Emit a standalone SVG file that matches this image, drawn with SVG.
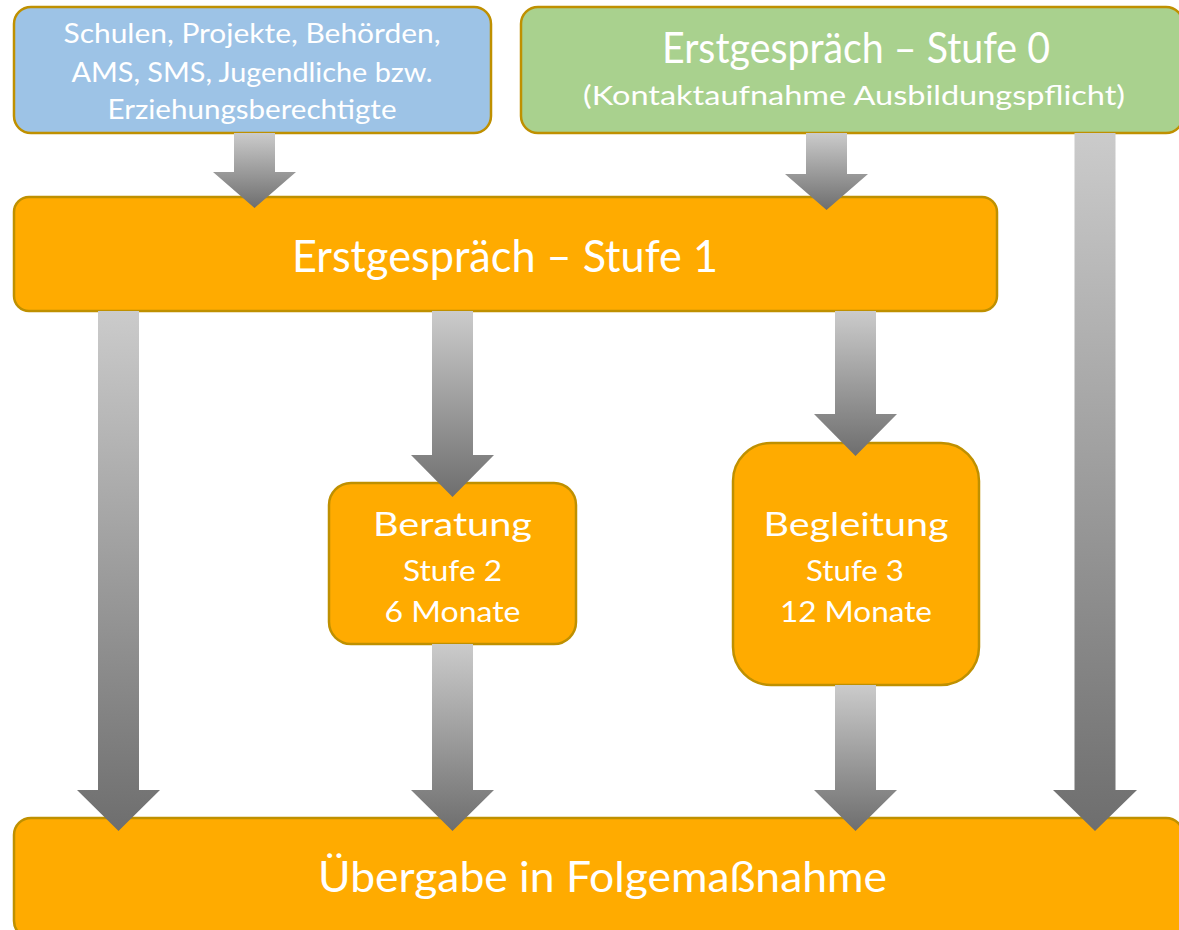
<svg xmlns="http://www.w3.org/2000/svg" width="1179" height="930" viewBox="0 0 1179 930">
<defs>
<linearGradient id="g" x1="0" y1="0" x2="0" y2="1">
<stop offset="0" stop-color="#cbcbcb"/>
<stop offset="1" stop-color="#6e6e6e"/>
</linearGradient>
<style>
.box{stroke:#bf9000;stroke-width:2.5}
.blue{fill:#9dc3e6}
.green{fill:#a9d18e}
.orange{fill:#ffab00}
.arrow{fill:url(#g)}
text{font-family:Lato,"Open Sans","Liberation Sans",sans-serif;fill:#ffffff;text-anchor:middle}
</style>
</defs>
<rect width="1179" height="930" fill="#ffffff"/>
<g id="node-sources">
<rect class="box blue" x="14" y="7" width="477" height="126" rx="17"/>
<text x="252" y="43" font-size="27" textLength="377" lengthAdjust="spacingAndGlyphs">Schulen, Projekte, Behörden,</text>
<text x="252" y="82" font-size="27" textLength="361" lengthAdjust="spacingAndGlyphs">AMS, SMS, Jugendliche bzw.</text>
<text x="252" y="119" font-size="27" textLength="289" lengthAdjust="spacingAndGlyphs">Erziehungsberechtigte</text>
</g>
<g id="node-stufe0">
<rect class="box green" x="521" y="7" width="662" height="126" rx="17"/>
<text x="856" y="63" font-size="43" textLength="388" lengthAdjust="spacingAndGlyphs">Erstgespräch – Stufe 0</text>
<text x="854" y="105" font-size="26.5" textLength="542" lengthAdjust="spacingAndGlyphs">(Kontaktaufnahme Ausbildungspflicht)</text>
</g>
<g id="node-stufe1">
<rect class="box orange" x="14" y="197" width="983" height="114" rx="15"/>
<text x="505" y="272" font-size="44" textLength="426" lengthAdjust="spacingAndGlyphs">Erstgespräch – Stufe 1</text>
</g>
<g id="node-beratung">
<rect class="box orange" x="329" y="483" width="247" height="161" rx="22"/>
<text x="452.5" y="536" font-size="33" textLength="159" lengthAdjust="spacingAndGlyphs">Beratung</text>
<text x="452.5" y="581" font-size="28.5" textLength="99" lengthAdjust="spacingAndGlyphs">Stufe 2</text>
<text x="452.5" y="622" font-size="28.5" textLength="136" lengthAdjust="spacingAndGlyphs">6 Monate</text>
</g>
<g id="node-begleitung">
<rect class="box orange" x="733" y="443" width="246" height="242" rx="38"/>
<text x="856" y="536" font-size="33" textLength="185" lengthAdjust="spacingAndGlyphs">Begleitung</text>
<text x="855" y="581" font-size="28.5" textLength="98" lengthAdjust="spacingAndGlyphs">Stufe 3</text>
<text x="856" y="622" font-size="28.5" textLength="152" lengthAdjust="spacingAndGlyphs">12 Monate</text>
</g>
<g id="node-uebergabe">
<rect class="box orange" x="14" y="818" width="1169" height="120" rx="17"/>
<text x="602.5" y="892" font-size="42" textLength="569" lengthAdjust="spacingAndGlyphs">Übergabe in Folgemaßnahme</text>
</g>
<g id="connectors">
<path class="arrow" d="M234,133 H275 V172 H296 L254.5,208 L213,172 H234 Z"/>
<path class="arrow" d="M806,133 H847 V174 H868 L826.5,210 L785,174 H806 Z"/>
<path class="arrow" d="M1074.5,133 H1115.5 V790 H1137 L1095,831 L1053,790 H1074.5 Z"/>
<path class="arrow" d="M98,311 H139 V790 H160 L118.5,831 L77,790 H98 Z"/>
<path class="arrow" d="M432,311 H473 V455 H494 L452.5,497 L411,455 H432 Z"/>
<path class="arrow" d="M432,644 H473 V790 H494 L452.5,831 L411,790 H432 Z"/>
<path class="arrow" d="M835,311 H876 V414 H897 L855.5,456 L814,414 H835 Z"/>
<path class="arrow" d="M835,685 H876 V790 H897 L855.5,831 L814,790 H835 Z"/>
</g>
</svg>
